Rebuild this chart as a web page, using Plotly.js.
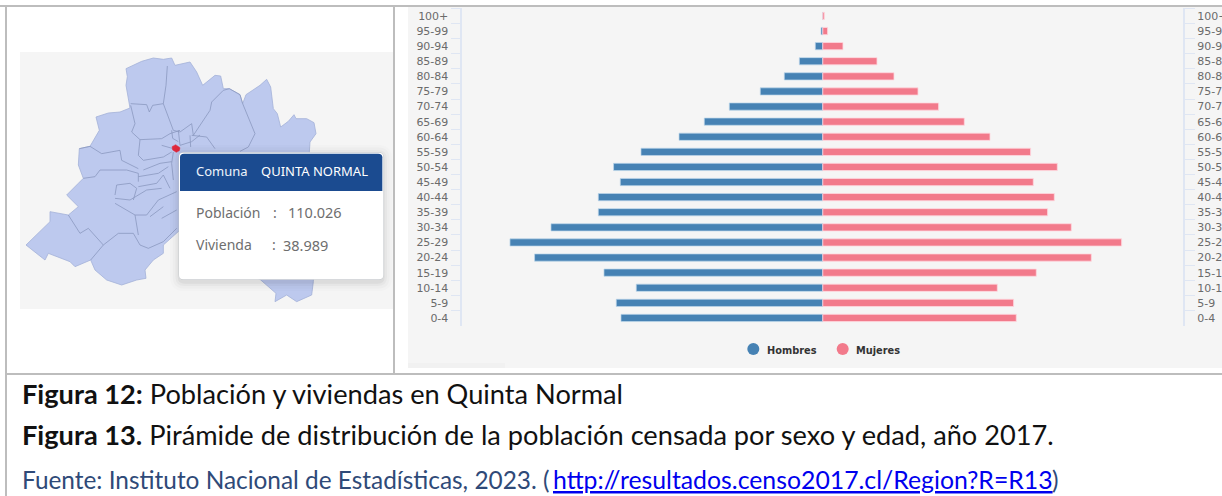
<!DOCTYPE html>
<html lang="es">
<head>
<meta charset="utf-8">
<title>Quinta Normal</title>
<script src="https://cdn.plot.ly/plotly-3.0.1.min.js"></script>
<style>html,body{margin:0;padding:0;background:#fff;overflow:hidden}#chart{width:1222px;height:496px}</style>
</head>
<body>
<div id="chart"></div>
<script>
const ageGroups = ["100+","95-99","90-94","85-89","80-84","75-79","70-74","65-69","60-64","55-59","50-54","45-49","40-44","35-39","30-34","25-29","20-24","15-19","10-14","5-9","0-4"];
const hombres = [3,30,125,392,643,1044,1561,1979,2401,3036,3494,3382,3749,3749,4539,5224,4813,3654,3115,3449,3370];
const mujeres = [25,80,337,905,1189,1590,1934,2363,2792,3470,3916,3515,3866,3754,4150,4990,4484,3565,2914,3186,3231];

const mapOutlineX = [378,425,460,490,515,525,570,590,608,645,662,670,688,720,728,738,780,800,812,820,832,842,865,882,888,920,942,948,930,928,945,940,935,890,860,825,828,810,780,600,540,490,490,460,435,438,410,365,320,285,272,225,210,145,135,78,120,150,150,205,235,200,235,250,235,238,270,298,288,325,360,390,378,382,378];
const mapOutlineY = [206,184,174,178,174,196,186,216,256,226,228,266,266,284,311,284,256,238,261,326,341,381,364,344,356,356,368,401,426,456,600,845,885,905,885,905,880,865,838,760,690,735,760,780,810,835,840,855,840,810,780,800,785,760,780,735,695,665,635,645,620,585,550,535,495,446,439,391,351,339,336,324,256,230,206];
const mapBordersX = [392,440,448,458,490,null,502,498,490,520,540,575,580,630,635,670,null,670,688,720,728,765,745,720,null,392,405,395,420,485,510,540,null,575,620,645,null,570,572,null,535,540,null,420,415,430,490,515,null,485,520,null,238,270,305,360,365,415,null,250,285,300,380,415,415,null,345,350,390,410,400,null,345,405,440,475,530,null,345,390,440,485,null,205,240,265,310,355,400,420,445,490,530,null,405,415,null,450,490,null,485,530,null,415,445,475,505,null,415,470,490,510,null,310,272,null,515,518,535,null,540,575,600,null,430,480,515,null,520,515,520];
const mapBordersY = [311,314,336,316,311,null,198,256,311,391,396,371,406,331,306,271,null,271,266,284,311,401,441,454,null,316,371,396,419,416,401,391,null,406,411,446,null,406,441,null,391,436,null,419,466,481,471,456,null,436,446,null,446,439,461,451,481,506,null,535,530,510,510,520,545,null,585,555,550,565,600,null,610,645,645,600,575,null,595,600,570,565,null,645,700,685,735,700,700,735,745,725,685,null,645,705,null,650,620,null,655,630,null,530,525,520,500,null,560,550,525,565,null,735,780,null,391,415,425,null,436,425,405,null,510,490,485,null,456,490,540];
const comunaX = [516,527,540,538,529,518,516];
const comunaY = [440,434,443,452,457,450,440];

const legendNames = ["Hombres","Mujeres"];
const BLUE = "#4682b4", PINK = "#f27a8b";
const W = 1222, H = 496;
const px = v => v / W, py = v => 1 - v / H;
const rect = (x0,y0,x1,y1,color) => ({type:"rect",xref:"paper",yref:"paper",layer:"below",x0:px(x0),x1:px(x1),y0:py(y0),y1:py(y1),fillcolor:color,line:{width:0}});
const round = (x0,y0,x1,y1,r,fill,op) => ({type:"path",xref:"x3",yref:"y3",layer:"above",opacity:op===undefined?1:op,fillcolor:fill,line:{width:0},
  path:`M${x0+r},${y0} L${x1-r},${y0} Q${x1},${y0} ${x1},${y0+r} L${x1},${y1-r} Q${x1},${y1} ${x1-r},${y1} L${x0+r},${y1} Q${x0},${y1} ${x0},${y1-r} L${x0},${y0+r} Q${x0},${y0} ${x0+r},${y0} Z`});
const label = (x,y,text,size,color,family,extra) => Object.assign({xref:"paper",yref:"paper",x:px(x),y:py(y),text,showarrow:false,xanchor:"left",yanchor:"middle",borderpad:0,font:{size,color,family}},extra||{});

const FRAME = "#bdbdbd";
const shapes = [
  rect(408,7,1222,368,"#f5f5f5"),
  rect(408,363,505,368,"#f1f1f1"),
  rect(20,52,394,309,"#f5f5f5"),
  rect(0,5,1222,7,FRAME),
  rect(5,5,7,496,FRAME),
  rect(393,5,395,375,FRAME),
  rect(5,373,1222,375,FRAME)
];
[[30,.012],[22,.018],[14,.028],[7,.045]].forEach(s => {
  shapes.push(round(537-s[0]+3,458-s[0]+6,1150+s[0]-3,838+s[0]+6,14+s[0],"#000",s[1]));
});
shapes.push(round(536,457,1151,839,14,"#c4c8cc"));
shapes.push(round(537,458,1150,838,13,"#ffffff"));
shapes.push({type:"path",xref:"x3",yref:"y3",layer:"above",fillcolor:"#1b4b90",line:{width:0},
  path:"M540,472 Q540,461 552,461 L1135,461 Q1147,461 1147,472 L1147,573 L540,573 Z"});

const CAP = "Lato, Carlito, Calibri, sans-serif";
const TIP = "'Noto Sans', Roboto, sans-serif";
const AX = "'DejaVu Sans', Verdana, sans-serif";
const annotations = [
  label(194.5,171.5,"Comuna",13,"#eef3fb",TIP),
  label(259.5,171.5,"QUINTA NORMAL",13,"#ffffff",TIP),
  label(194.5,212,"Población",14,"#6e6e6e",TIP),
  label(272,212,":",14,"#6e6e6e",TIP),
  label(287,212,"110.026",14.5,"#6e6e6e",TIP),
  label(194.5,245,"Vivienda",14,"#6e6e6e",TIP),
  label(271,245,":",14,"#6e6e6e",TIP),
  label(282,245,"38.989",14.5,"#6e6e6e",TIP),
  label(766,350.5,"<b>"+legendNames[0]+"</b>",9.8,"#333333",AX),
  label(855,350.5,"<b>"+legendNames[1]+"</b>",9.8,"#333333",AX),
  label(21,393,"<b>Figura 12:</b> Población y viviendas en Quinta Normal",27.2,"#111111",CAP),
  label(21,434,"<b>Figura 13.</b> Pirámide de distribución de la población censada por sexo y edad, año 2017.",27.2,"#111111",CAP),
  label(21,479.5,"Fuente: Instituto Nacional de Estadísticas, 2023. (",24.4,"#2f4a78",CAP),
  label(552,479.5,"<u>http://resultados.censo2017.cl/Region?R=R13</u>",24.8,"#0000ee",CAP),
  label(1051,479.5,")",24.4,"#2f4a78",CAP)
];

const barCommon = {type:"bar",orientation:"h",y:ageGroups,xaxis:"x",yaxis:"y",showlegend:false,hoverinfo:"x+y+name"};
const traces = [
  Object.assign({},barCommon,{name:legendNames[0],x:hombres.map(v=>-v),marker:{color:BLUE,line:{color:"rgba(190,215,235,.7)",width:1}}}),
  Object.assign({},barCommon,{name:legendNames[1],x:mujeres,marker:{color:PINK,line:{color:"rgba(255,215,222,.8)",width:1}}}),
  {type:"scatter",mode:"markers",x:ageGroups.map(()=>0),y:ageGroups,xaxis:"x",yaxis:"y2",opacity:0,showlegend:false,hoverinfo:"skip"},
  {type:"scatter",mode:"lines",x:mapOutlineX,y:mapOutlineY,xaxis:"x3",yaxis:"y3",fill:"toself",fillcolor:"#bdc9ee",line:{color:"#a3b1d8",width:.8},hoverinfo:"skip",showlegend:false},
  {type:"scatter",mode:"lines",x:mapBordersX,y:mapBordersY,xaxis:"x3",yaxis:"y3",line:{color:"#8a98bf",width:.8},hoverinfo:"skip",showlegend:false,connectgaps:false},
  {type:"scatter",mode:"lines",x:comunaX,y:comunaY,xaxis:"x3",yaxis:"y3",fill:"toself",fillcolor:"#e0283c",line:{color:"#e0283c",width:.5},hoverinfo:"skip",showlegend:false},
  {type:"scatter",mode:"markers",x:[2260,2528],y:[1047,1047],xaxis:"x3",yaxis:"y3",marker:{size:12,color:[BLUE,PINK]},hoverinfo:"skip",showlegend:false}
];

const catAxis = {type:"category",categoryorder:"array",categoryarray:ageGroups,range:[20.5,-0.5],domain:[py(325.5),py(8.4)],
  tickson:"boundaries",ticks:"outside",ticklen:10,tickcolor:"#dfe6f3",tickwidth:1.2,showline:true,linecolor:"#dfe6f3",linewidth:1.5,showgrid:false,zeroline:false,
  tickfont:{family:AX,size:11,color:"#6b6b6b"},dtick:1,tick0:0,automargin:false,fixedrange:true,ticklabelstandoff:10};

const layout = {
  width:W,height:H,margin:{l:0,r:0,t:0,b:0},paper_bgcolor:"#ffffff",plot_bgcolor:"rgba(0,0,0,0)",
  showlegend:false,barmode:"overlay",bargap:0.52,hovermode:"closest",
  xaxis:{domain:[px(462.3),px(1183.3)],range:[-6020,6020],visible:false,fixedrange:true},
  yaxis:Object.assign({},catAxis,{side:"left"}),
  yaxis2:Object.assign({},catAxis,{side:"right",overlaying:"y",anchor:"x"}),
  xaxis3:{domain:[0,1],range:[0,3666],visible:false,fixedrange:true,anchor:"y3"},
  yaxis3:{domain:[0,1],range:[1488,0],visible:false,fixedrange:true,anchor:"x3"},
  shapes,annotations
};
Plotly.newPlot("chart",traces,layout,{displayModeBar:false,responsive:false});
</script>
</body>
</html>
